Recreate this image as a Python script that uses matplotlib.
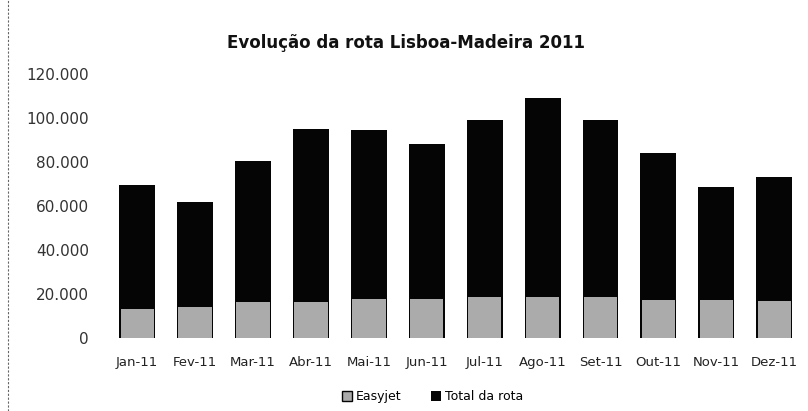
import matplotlib
matplotlib.use('Agg')
import matplotlib.pyplot as plt
from matplotlib.lines import Line2D
from matplotlib.ticker import FuncFormatter

meses = ['Jan-11', 'Fev-11', 'Mar-11', 'Abr-11', 'Mai-11', 'Jun-11',
         'Jul-11', 'Ago-11', 'Set-11', 'Out-11', 'Nov-11', 'Dez-11']

# passageiros por mes
total_rota = [69400, 61600, 80400, 95000, 94500, 88100,
              99100, 109100, 99100, 84000, 68500, 73100]
easyjet = [13200, 14200, 16400, 16400, 17800, 17800,
           18700, 18700, 18700, 17400, 17400, 16900]

fig = plt.figure(figsize=(8.08, 4.11), dpi=100)
ax = fig.add_axes([0.134, 0.178, 0.86, 0.642])

x = range(len(meses))
ax.bar(x, total_rota, width=0.62, color='#050505', label='Total da rota', zorder=2)
# barra da Easyjet um pouco mais estreita, por cima do total
ax.bar(x, easyjet, width=0.575, color='#ababab', label='Easyjet', zorder=3)

ax.set_xlim(-0.5, len(meses) - 0.5)
ax.set_ylim(0, 120000)
ax.set_yticks(range(0, 120001, 20000))
ax.yaxis.set_major_formatter(FuncFormatter(lambda v, p: '{:,.0f}'.format(v).replace(',', '.')))
ax.set_xticks(list(x))
ax.set_xticklabels(meses)

for s in ax.spines.values():
    s.set_visible(False)
ax.tick_params(axis='y', length=0, pad=14, labelsize=11, labelcolor='#333333')
ax.tick_params(axis='x', length=0, pad=13, labelsize=9.5, labelcolor='#222222')

fig.text(0.503, 0.895, 'Evolução da rota Lisboa-Madeira 2011', ha='center', va='center',
         fontsize=12, fontweight='bold', color='#111111')

handles, labels = ax.get_legend_handles_labels()
leg = fig.legend(handles[::-1], labels[::-1], loc='center', bbox_to_anchor=(0.535, 0.035),
                 ncol=2, frameon=False, fontsize=9, handlelength=0.8, handleheight=0.8,
                 handletextpad=0.3, columnspacing=2.4)
leg.legend_handles[0].set_edgecolor('#050505')

# margem esquerda da folha
fig.add_artist(Line2D([0.01, 0.01], [0.0, 1.0], transform=fig.transFigure,
                      color='#666666', linewidth=0.8, linestyle=(0, (2, 1.5))))

fig.savefig('out.png', dpi=100)
